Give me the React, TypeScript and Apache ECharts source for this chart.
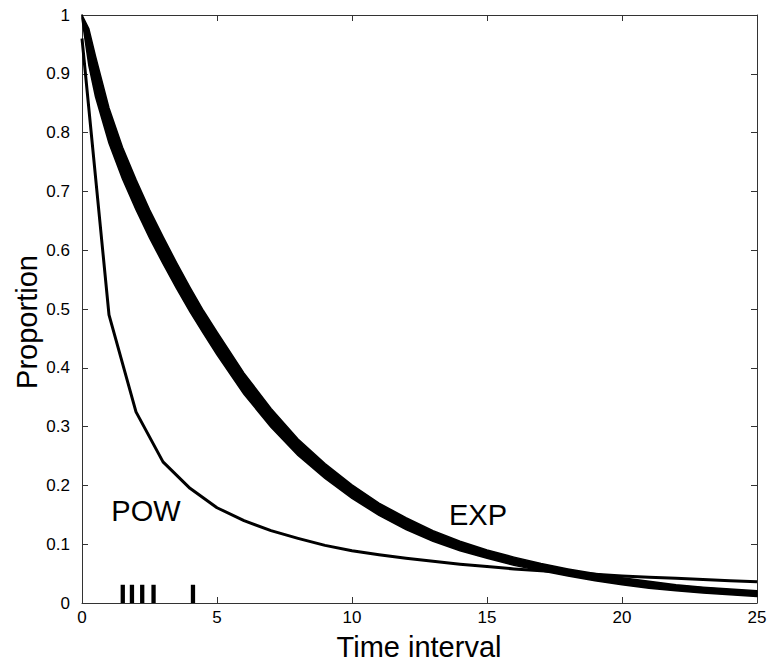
import React, { useEffect, useRef } from "react";
import * as echarts from "echarts";

// Time steps (x) and the power-law curve (POW)
const timeSteps = [0, 1, 2, 3, 4, 5, 6, 7, 8, 9, 10, 11, 12, 13, 14, 15, 16, 17, 18, 19, 20, 21, 22, 23, 24, 25];
const powValues = [0.96, 0.49, 0.325, 0.24, 0.195, 0.162, 0.14, 0.123, 0.11, 0.098, 0.089, 0.082, 0.076, 0.071, 0.066, 0.062, 0.058, 0.055, 0.052, 0.049, 0.046, 0.044, 0.042, 0.04, 0.038, 0.036];

// Exponential band (EXP): upper and lower envelope of the curve family
const expX = [0, 0.25, 0.5, 1, 1.5, 2, 2.5, 3, 3.5, 4, 4.5, 5, 6, 7, 8, 9, 10, 11, 12, 13, 14, 15, 16, 17, 18, 19, 20, 21, 22, 23, 24, 25];
const expUpper = [1.0, 0.977, 0.93, 0.842, 0.775, 0.72, 0.669, 0.623, 0.579, 0.537, 0.497, 0.461, 0.391, 0.331, 0.279, 0.237, 0.201, 0.17, 0.145, 0.123, 0.105, 0.09, 0.078, 0.067, 0.058, 0.05, 0.043, 0.037, 0.031, 0.027, 0.024, 0.021];
const expLower = [0.994, 0.915, 0.861, 0.782, 0.721, 0.669, 0.621, 0.577, 0.535, 0.495, 0.458, 0.422, 0.355, 0.299, 0.251, 0.212, 0.178, 0.149, 0.125, 0.105, 0.089, 0.076, 0.064, 0.055, 0.046, 0.038, 0.031, 0.025, 0.021, 0.017, 0.014, 0.011];

// Rug marks along the bottom
const rugX = [1.51, 1.85, 2.23, 2.65, 4.11];
const rugHeight = 0.031;

// Axis settings
const xMin = 0;
const xMax = 25;
const xStep = 5;
const yMin = 0;
const yMax = 1;
const yStep = 0.1;

const FONT = "'Liberation Sans', Arial, Helvetica, sans-serif";
const AXIS_COLOR = "#333";

export default function App() {
  const ref = useRef<HTMLDivElement>(null);

  useEffect(() => {
    if (!ref.current) return;
    const chart = echarts.init(ref.current, null, { renderer: "svg" });

    const axisCommon = {
      axisLine: { show: true, onZero: false, lineStyle: { color: AXIS_COLOR, width: 1 } },
      axisTick: { show: true, inside: true, length: 6, lineStyle: { color: AXIS_COLOR, width: 1 } },
      splitLine: { show: false },
    };

    const bandPoints = () => {
      const pts: number[][] = [];
      for (let i = 0; i < expX.length; i++) pts.push([expX[i], expUpper[i]]);
      for (let i = expX.length - 1; i >= 0; i--) pts.push([expX[i], expLower[i]]);
      return pts;
    };

    const option: any = {
      animation: false,
      backgroundColor: "#fff",
      grid: { left: 82, right: 16, top: 15, bottom: 64, containLabel: false },
      xAxis: [
        {
          type: "value",
          min: xMin,
          max: xMax,
          interval: xStep,
          position: "bottom",
          ...axisCommon,
          axisLabel: { color: "#000", fontSize: 17, fontFamily: FONT, margin: 6 },
        },
        {
          type: "value",
          min: xMin,
          max: xMax,
          interval: xStep,
          position: "top",
          ...axisCommon,
          axisLabel: { show: false },
        },
      ],
      yAxis: [
        {
          type: "value",
          min: yMin,
          max: yMax,
          interval: yStep,
          position: "left",
          ...axisCommon,
          axisLabel: { color: "#000", fontSize: 17, fontFamily: FONT, margin: 12 },
        },
        {
          type: "value",
          min: yMin,
          max: yMax,
          interval: yStep,
          position: "right",
          ...axisCommon,
          axisLabel: { show: false },
        },
      ],
      series: [
        {
          name: "EXP",
          type: "custom",
          xAxisIndex: 0,
          yAxisIndex: 0,
          data: [[expX[0], expUpper[0]]],
          encode: { x: 0, y: 1 },
          z: 3,
          renderItem: (params: any, api: any) => {
            const points = bandPoints().map((p) => api.coord(p));
            return {
              type: "polygon",
              shape: { points },
              style: { fill: "#000", stroke: "#000", lineWidth: 1.5, lineJoin: "round" },
            };
          },
        },
        {
          name: "POW",
          type: "line",
          xAxisIndex: 0,
          yAxisIndex: 0,
          data: timeSteps.map((t, i) => [t, powValues[i]]),
          symbol: "none",
          lineStyle: { color: "#000", width: 3, join: "round" },
          z: 4,
        },
        {
          name: "rug",
          type: "custom",
          xAxisIndex: 0,
          yAxisIndex: 0,
          data: rugX.map((x) => [x, rugHeight]),
          encode: { x: 0, y: 1 },
          z: 5,
          renderItem: (params: any, api: any) => {
            const x = api.value(0);
            const h = api.value(1);
            const top = api.coord([x, h]);
            const bottom = api.coord([x, 0]);
            const w = 4.3;
            return {
              type: "rect",
              shape: { x: top[0] - w / 2, y: top[1], width: w, height: bottom[1] - top[1] },
              style: { fill: "#000" },
            };
          },
        },
      ],
      graphic: [
        {
          type: "text",
          x: 146,
          y: 511,
          style: { text: "POW", fontSize: 29, fontFamily: FONT, fill: "#000", textAlign: "center", textVerticalAlign: "middle" },
          z: 10,
        },
        {
          type: "text",
          x: 478,
          y: 515,
          style: { text: "EXP", fontSize: 29, fontFamily: FONT, fill: "#000", textAlign: "center", textVerticalAlign: "middle" },
          z: 10,
        },
        {
          type: "text",
          x: 27,
          y: 322,
          rotation: Math.PI / 2,
          style: { text: "Proportion", fontSize: 29, fontFamily: FONT, fill: "#000", textAlign: "center", textVerticalAlign: "middle" },
          z: 10,
        },
        {
          type: "text",
          x: 419,
          y: 647,
          style: { text: "Time interval", fontSize: 29, fontFamily: FONT, fill: "#000", textAlign: "center", textVerticalAlign: "middle" },
          z: 10,
        },
      ],
    };

    chart.setOption(option);
    return () => {
      chart.dispose();
    };
  }, []);

  return (
    <div
      ref={ref}
      style={{ position: "fixed", left: 0, top: 0, width: 773, height: 667, background: "#fff" }}
    />
  );
}
